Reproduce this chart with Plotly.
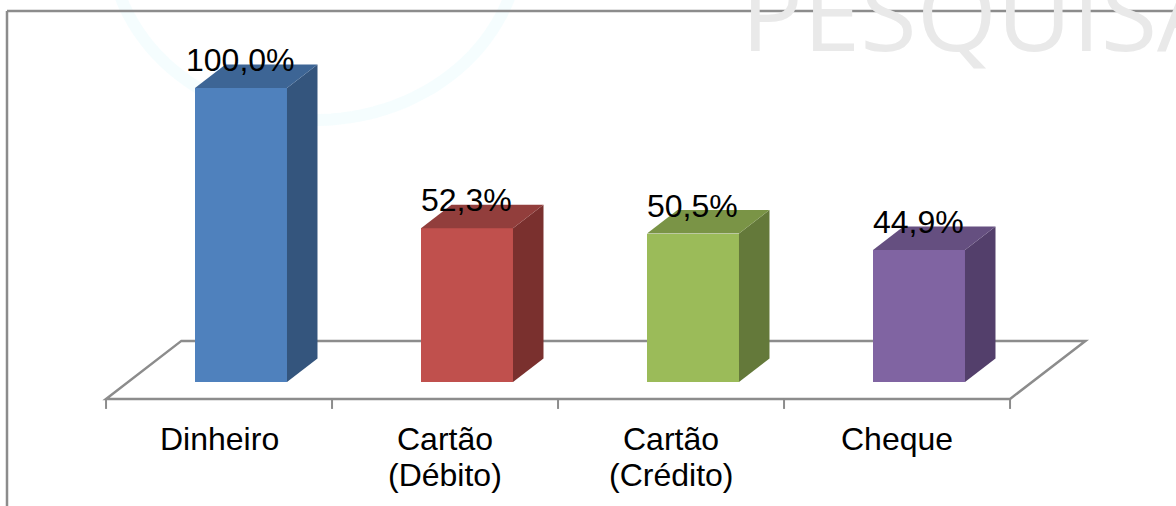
import numpy as np
import plotly.graph_objects as go

# ---- data ----
categories = ["Dinheiro", "Cartão (Débito)", "Cartão (Crédito)", "Cheque"]
label_line1 = ["Dinheiro", "Cartão", "Cartão", "Cheque"]
label_line2 = ["", "(Débito)", "(Crédito)", ""]
values = [100.0, 52.3, 50.5, 44.9]
value_labels = ["100,0%", "52,3%", "50,5%", "44,9%"]

front_colors = ["#4F81BD", "#C0504D", "#9BBB59", "#8064A2"]
top_colors = ["#3D6595", "#923E3C", "#7A9446", "#654F80"]
side_colors = ["#34557D", "#7A302E", "#64793A", "#533F6B"]

# ---- geometry (axis units) ----
W_PX, H_PX = 1176, 506
PX_PER_CAT = 226.0
PX_PER_UNIT = 2.94
X0_PX = 241.0          # pixel of first category centre
Y0_PX = 382.0          # pixel of value 0
BAR_W = 0.407
DX = 30.5 / PX_PER_CAT  # depth offset of bar (x)
DY = 23.5 / PX_PER_UNIT # depth offset of bar (y)
F_FRONT = -0.72          # floor front depth (in bar depths)
F_BACK = 1.75            # floor back depth
TICK_LEN = 10 / PX_PER_UNIT

xr = [-X0_PX / PX_PER_CAT, (W_PX - X0_PX) / PX_PER_CAT]
yr = [-(H_PX - Y0_PX) / PX_PER_UNIT, Y0_PX / PX_PER_UNIT]

n = len(values)
xs = np.arange(n)
GRAY = "#8C8C8C"

fig = go.Figure()

# front faces
fig.add_trace(go.Bar(x=xs, y=values, width=BAR_W, marker=dict(color=front_colors, line=dict(width=0)),
                     hoverinfo="skip", showlegend=False))

# side and top faces
for i, v in enumerate(values):
    r = i + BAR_W / 2
    l = i - BAR_W / 2
    fig.add_trace(go.Scatter(x=[r, r + DX, r + DX, r, r], y=[0, DY, v + DY, v, 0],
                             fill="toself", fillcolor=side_colors[i], mode="lines",
                             line=dict(width=0, color=side_colors[i]), hoverinfo="skip", showlegend=False))
    fig.add_trace(go.Scatter(x=[l, r, r + DX, l + DX, l], y=[v, v, v + DY, v + DY, v],
                             fill="toself", fillcolor=top_colors[i], mode="lines",
                             line=dict(width=0, color=top_colors[i]), hoverinfo="skip", showlegend=False))

shapes = []
# floor
fl = -0.5 + F_FRONT * DX
fr = n - 0.5 + F_FRONT * DX
bl = -0.5 + F_BACK * DX
br = n - 0.5 + F_BACK * DX
fy = F_FRONT * DY
by = F_BACK * DY
shapes.append(dict(type="path", xref="x", yref="y", layer="below",
                   path=f"M {fl},{fy} L {fr},{fy} L {br},{by} L {bl},{by} Z",
                   line=dict(color=GRAY, width=2.5), fillcolor="rgba(0,0,0,0)"))
for k in range(n + 1):
    tx = k - 0.5 + F_FRONT * DX
    shapes.append(dict(type="line", xref="x", yref="y", layer="below",
                       x0=tx, x1=tx, y0=fy, y1=fy - TICK_LEN, line=dict(color=GRAY, width=2)))

# decorative frame
shapes.append(dict(type="line", xref="paper", yref="paper", x0=7 / W_PX, x1=1.01, y0=1 - 11 / H_PX, y1=1 - 11 / H_PX,
                   line=dict(color=GRAY, width=2.5), layer="above"))
shapes.append(dict(type="line", xref="paper", yref="paper", x0=7 / W_PX, x1=7 / W_PX, y0=1 - 11 / H_PX, y1=-0.01,
                   line=dict(color=GRAY, width=2.5), layer="above"))

# decorative faint arc (background logo)
t = np.linspace(0, np.pi, 60)
cx, cy, a, b = 315, -60, 205, 180
px = cx + a * np.cos(t)
py = cy + b * np.sin(t)
arc = "M " + " L ".join(f"{x / W_PX:.4f},{1 - y / H_PX:.4f}" for x, y in zip(px, py))
shapes.append(dict(type="path", xref="paper", yref="paper", path=arc, layer="below",
                   line=dict(color="rgba(170,240,250,0.12)", width=12)))

annotations = []
FONT = "Liberation Sans, Arial, sans-serif"
for i, v in enumerate(values):
    annotations.append(dict(x=i, y=v, xref="x", yref="y", text=value_labels[i], showarrow=False,
                            xanchor="center", yanchor="middle", yshift=28, xshift=-1,
                            font=dict(family=FONT, size=32, color="#000000")))
for i in range(n):
    cxl = i + F_FRONT * DX
    annotations.append(dict(x=cxl, y=fy, xref="x", yref="y", text=label_line1[i], showarrow=False,
                            xanchor="center", yanchor="middle", yshift=-40,
                            font=dict(family=FONT, size=32, color="#000000")))
    if label_line2[i]:
        annotations.append(dict(x=cxl, y=fy, xref="x", yref="y", text=label_line2[i], showarrow=False,
                                xanchor="center", yanchor="middle", yshift=-76,
                                font=dict(family=FONT, size=32, color="#000000")))

# watermark
annotations.append(dict(x=739 / W_PX, y=1 - 11 / H_PX, xref="paper", yref="paper", text="PESQUISA",
                        showarrow=False, xanchor="left", yanchor="middle",
                        font=dict(family="Open Sans, sans-serif", size=103, color="#E9E9E9")))

fig.update_layout(
    width=W_PX, height=H_PX, autosize=False,
    margin=dict(l=0, r=0, t=0, b=0, pad=0),
    paper_bgcolor="white", plot_bgcolor="rgba(0,0,0,0)",
    xaxis=dict(range=xr, visible=False, fixedrange=True),
    yaxis=dict(range=yr, visible=False, fixedrange=True),
    shapes=shapes, annotations=annotations, showlegend=False, bargap=0,
)

fig.write_html("out.html", config={"displayModeBar": False},
               post_script="document.body.style.margin='0px';document.body.style.overflow='hidden';")
